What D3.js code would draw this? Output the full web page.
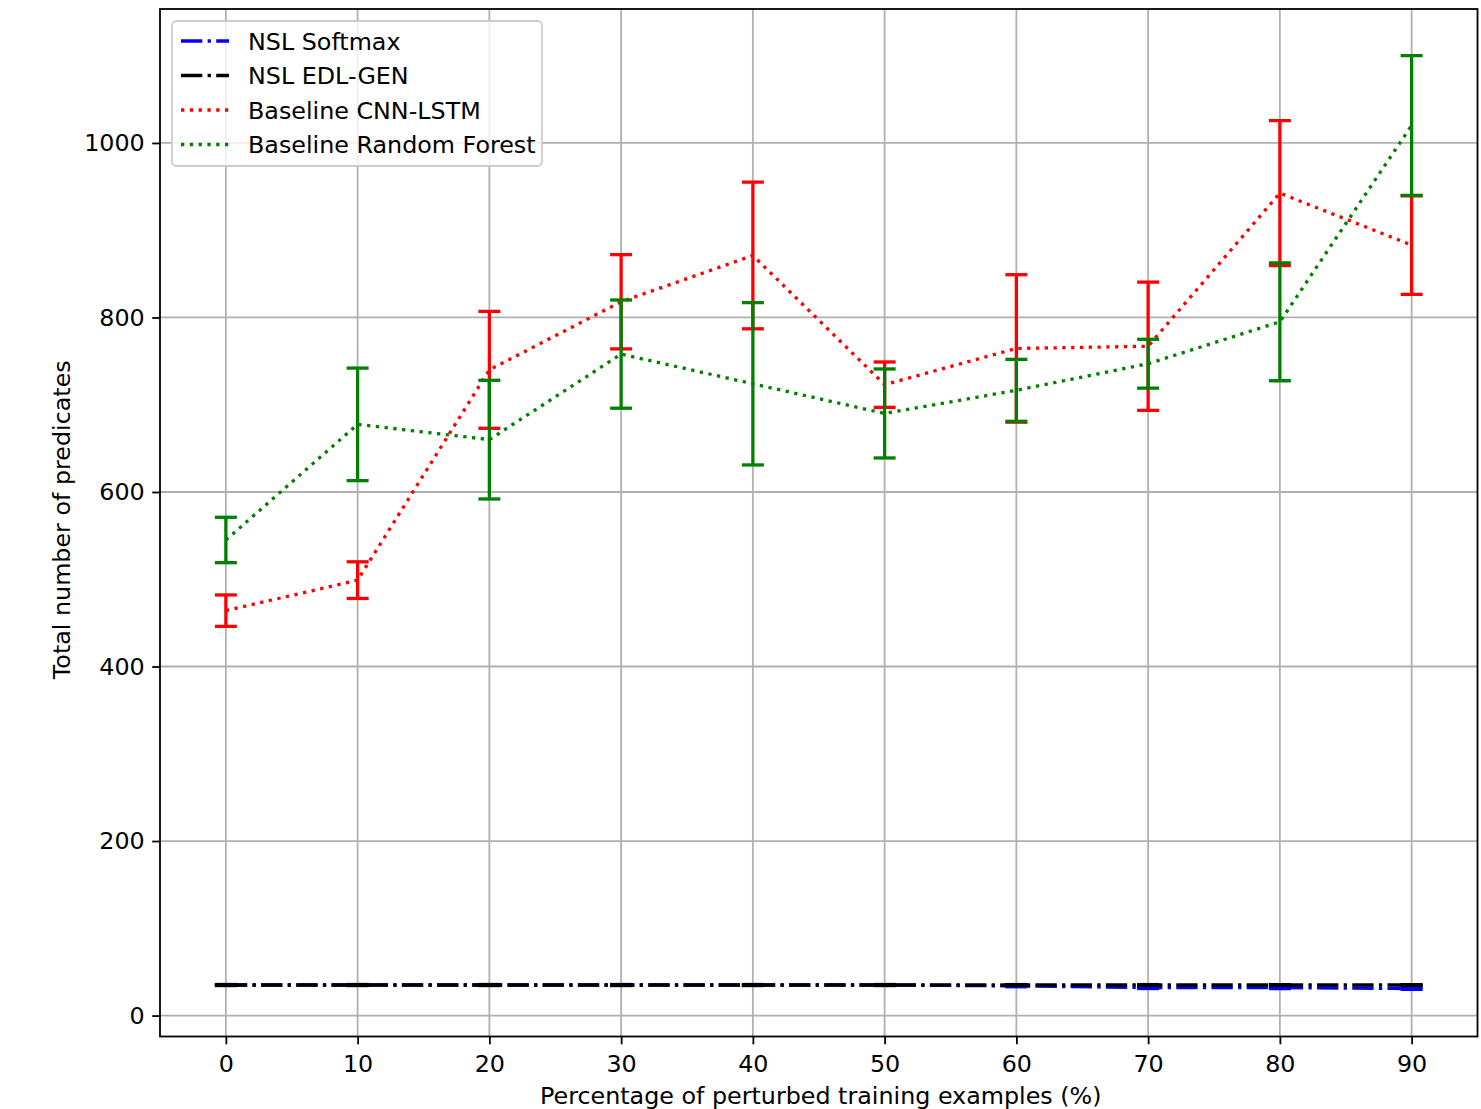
<!DOCTYPE html>
<html>
<head>
<meta charset="utf-8">
<script src="https://cdn.jsdelivr.net/npm/d3@7"></script>
<style>
  html, body { margin: 0; padding: 0; background: #fff; }
  svg { display: block; font-family: "DejaVu Sans", sans-serif; }
</style>
</head>
<body>
<svg id="chart" width="1481" height="1109"></svg>
<script>
// Percentage of perturbed training examples
const perturbation = [0, 10, 20, 30, 40, 50, 60, 70, 80, 90];

// Mean number of predicates and error half-widths per method
const nslSoftmax      = [35, 35, 35, 35, 35, 35, 34, 32, 32, 31];
const nslSoftmaxErr   = [0.5, 0.5, 0.5, 0.5, 0.5, 0.5, 1, 1, 1, 1];
const nslEdlGen       = [35, 35, 35, 35, 35, 35, 35, 35, 35, 35];
const nslEdlGenErr    = [0.5, 0.5, 0.5, 0.5, 0.5, 0.5, 0.5, 0.5, 0.5, 0.5];
const cnnLstm         = [464, 499, 740, 818, 871, 723, 764.5, 767, 942.5, 883];
const cnnLstmErr      = [18, 21, 67, 54, 84, 26, 84.5, 73.5, 83, 56.5];
const randomForest    = [545, 677.5, 660, 758, 724, 690, 716.5, 747, 795, 1020];
const randomForestErr = [26, 64.5, 68, 62, 93, 51, 35.5, 28, 67.5, 80];

const xTicks = [0, 10, 20, 30, 40, 50, 60, 70, 80, 90];
const yTicks = [0, 200, 400, 600, 800, 1000];

const seriesNames = ["NSL Softmax", "NSL EDL-GEN", "Baseline CNN-LSTM", "Baseline Random Forest"];
const seriesColors = ["#0000ff", "#000000", "#ff0000", "#008000"];
const seriesDash = ["21.3,5.3,3.3,5.3", "21.3,5.3,3.3,5.3", "3.3,5.5", "3.3,5.5"];
const seriesValues = [nslSoftmax, nslEdlGen, cnnLstm, randomForest];
const seriesErrors = [nslSoftmaxErr, nslEdlGenErr, cnnLstmErr, randomForestErr];

const svg = d3.select("#chart");
const plot = { left: 160, right: 1477.5, top: 9, bottom: 1036.5 };

const x = d3.scaleLinear().domain([-5, 95]).range([plot.left, plot.right]);
const y = d3.scaleLinear().domain([-24, 1153.5]).range([plot.bottom, plot.top]);

const fontSize = 23.8;
const lw = 3.3;

// grid
const grid = svg.append("g");
grid.selectAll("line.gx").data(xTicks).join("line")
  .attr("x1", d => x(d)).attr("x2", d => x(d))
  .attr("y1", plot.top).attr("y2", plot.bottom)
  .attr("stroke", "#b0b0b0").attr("stroke-width", 1.8);
grid.selectAll("line.gy").data(yTicks).join("line")
  .attr("y1", d => y(d)).attr("y2", d => y(d))
  .attr("x1", plot.left).attr("x2", plot.right)
  .attr("stroke", "#b0b0b0").attr("stroke-width", 1.8);

// series with error bars
svg.append("clipPath").attr("id", "clip")
  .append("rect").attr("x", plot.left).attr("y", plot.top)
  .attr("width", plot.right - plot.left).attr("height", plot.bottom - plot.top);
const marks = svg.append("g").attr("clip-path", "url(#clip)");

const line = d3.line().x(d => x(d[0])).y(d => y(d[1]));
const cap = 11;

seriesValues.forEach((vals, i) => {
  const g = marks.append("g");
  const pts = perturbation.map((p, k) => [p, vals[k], seriesErrors[i][k]]);
  g.append("path")
    .attr("d", line(pts))
    .attr("fill", "none")
    .attr("stroke", seriesColors[i])
    .attr("stroke-width", lw)
    .attr("stroke-dasharray", seriesDash[i]);
  const eb = g.selectAll("g.eb").data(pts).join("g");
  eb.append("line")
    .attr("x1", d => x(d[0])).attr("x2", d => x(d[0]))
    .attr("y1", d => y(d[1] - d[2])).attr("y2", d => y(d[1] + d[2]))
    .attr("stroke", seriesColors[i]).attr("stroke-width", lw);
  [-1, 1].forEach(s => {
    eb.append("line")
      .attr("x1", d => x(d[0]) - cap).attr("x2", d => x(d[0]) + cap)
      .attr("y1", d => y(d[1] + s * d[2])).attr("y2", d => y(d[1] + s * d[2]))
      .attr("stroke", seriesColors[i]).attr("stroke-width", lw);
  });
});

// axes
const xAxis = d3.axisBottom(x).tickValues(xTicks).tickSize(7.8).tickPadding(10.5).tickFormat(d3.format("d"));
const yAxis = d3.axisLeft(y).tickValues(yTicks).tickSize(7.8).tickPadding(7.5).tickFormat(d3.format("d"));

const gx = svg.append("g").attr("transform", `translate(0,${plot.bottom})`).call(xAxis);
const gy = svg.append("g").attr("transform", `translate(${plot.left},0)`).call(yAxis);
[gx, gy].forEach(g => {
  g.select(".domain").remove();
  g.selectAll(".tick line").attr("stroke", "#000").attr("stroke-width", 1.8);
  g.selectAll(".tick text").attr("fill", "#000").attr("font-size", fontSize)
    .attr("font-family", "DejaVu Sans");
});

// frame
svg.append("rect")
  .attr("x", plot.left).attr("y", plot.top)
  .attr("width", plot.right - plot.left).attr("height", plot.bottom - plot.top)
  .attr("fill", "none").attr("stroke", "#000").attr("stroke-width", 1.8);

// axis labels
svg.append("text")
  .attr("x", (plot.left + plot.right) / 2 + 2).attr("y", 1104)
  .attr("text-anchor", "middle").attr("font-size", fontSize)
  .text("Percentage of perturbed training examples (%)");
svg.append("text")
  .attr("transform", `translate(70,${(plot.top + plot.bottom) / 2 - 3}) rotate(-90)`)
  .attr("text-anchor", "middle").attr("font-size", fontSize)
  .text("Total number of predicates");

// legend
const legend = svg.append("g");
legend.append("rect")
  .attr("x", 172).attr("y", 21).attr("width", 370).attr("height", 145)
  .attr("rx", 4.5).attr("ry", 4.5)
  .attr("fill", "#fff").attr("fill-opacity", 0.8)
  .attr("stroke", "#cccccc").attr("stroke-width", 1.8);
seriesNames.forEach((name, i) => {
  const cy = 41 + i * 34.5;
  legend.append("line")
    .attr("x1", 181).attr("x2", 229).attr("y1", cy).attr("y2", cy)
    .attr("stroke", seriesColors[i]).attr("stroke-width", lw)
    .attr("stroke-dasharray", seriesDash[i]);
  legend.append("text")
    .attr("x", 248).attr("y", cy + 8.5)
    .attr("font-size", fontSize).attr("fill", "#000")
    .text(name);
});
</script>
</body>
</html>
